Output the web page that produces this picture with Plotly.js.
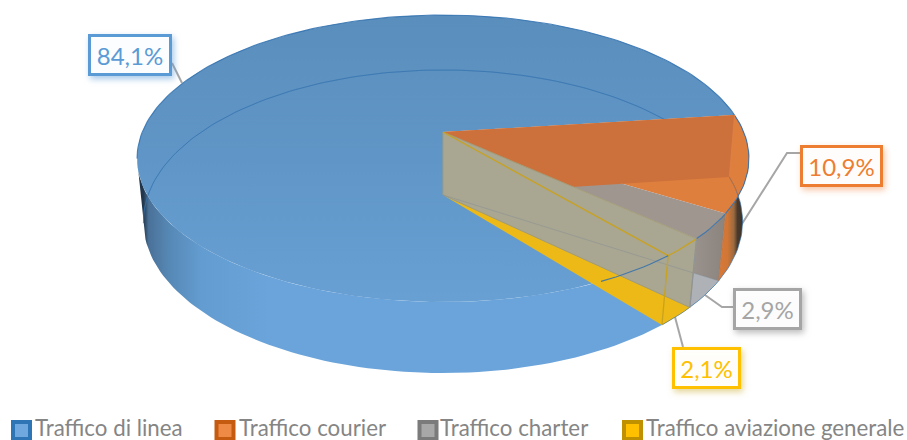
<!DOCTYPE html>
<html>
<head>
<meta charset="utf-8">
<script src="https://cdn.plot.ly/plotly-3.0.1.min.js"></script>
<style>
  html, body { margin: 0; padding: 0; background: #fff; }
  #chart { width: 907px; height: 440px; }
  .annotation[data-index="0"] rect.bg { filter: drop-shadow(2px 3px 3px rgba(91,155,213,.55)); }
  .annotation[data-index="1"] rect.bg { filter: drop-shadow(2px 3px 3px rgba(237,125,49,.45)); }
  .annotation[data-index="2"] rect.bg { filter: drop-shadow(2px 3px 3px rgba(120,120,120,.5)); }
  .annotation[data-index="3"] rect.bg { filter: drop-shadow(2px 3px 3px rgba(200,170,40,.5)); }
</style>
</head>
<body>
<div id="chart"></div>
<script>
// Chart values
const categories = ['Traffico di linea', 'Traffico courier', 'Traffico charter', 'Traffico aviazione generale'];
const shares = [84.1, 10.9, 2.9, 2.1];
const shareLabels = ['84,1%', '10,9%', '2,9%', '2,1%'];

// Slice order starts at this clockwise angle from twelve o'clock
const firstSliceAngle = 140;

// Perspective model of the disc: one ellipse for the upper face, one for the lower
const upperFace = { cx: 443, cy: 132, r: 300.7, b: 138.6, k: -0.1847 };
const lowerFace = { cx: 443, cy: 195, r: 295, b: 146.9, k: -0.1749 };
const leftTangent = 259.3;

function project(face, deg) {
  const a = deg * Math.PI / 180;
  const X = Math.sin(a), Y = -Math.cos(a);
  const w = 1 / (1 + face.k * Y);
  return [face.cx + face.r * X * w, face.cy + face.b * Y * w];
}
function arc(face, from, to) {
  const n = Math.max(2, Math.ceil(Math.abs(to - from) / 1.5));
  const pts = [];
  for (let i = 0; i <= n; i++) pts.push(project(face, from + (to - from) * i / n));
  return pts;
}
const centre = f => [f.cx, f.cy];

// Slice boundaries derived from the shares
const bounds = [firstSliceAngle];
shares.forEach(s => bounds.push(bounds[bounds.length - 1] + s * 3.6));
const [blueStart, blueEnd, orangeEnd, grayEnd, yellowEnd] = bounds;
const orangeStart = blueEnd, grayStart = orangeEnd, yellowStart = grayEnd;

function poly(points, name, fill, lineColor, lineWidth, gradient) {
  const pts = points.concat([points[0]]);
  const t = {
    type: 'scatter', mode: 'lines', name, showlegend: false, hoverinfo: 'skip',
    x: pts.map(p => p[0]), y: pts.map(p => p[1]), fill: 'toself',
    line: { color: lineColor || 'rgba(0,0,0,0)', width: lineWidth || 0, shape: 'linear' }
  };
  if (gradient) t.fillgradient = gradient; else t.fillcolor = fill;
  return t;
}
function path(points, name, color, width) {
  return {
    type: 'scatter', mode: 'lines', name, showlegend: false, hoverinfo: 'skip',
    x: points.map(p => p[0]), y: points.map(p => p[1]),
    line: { color, width }
  };
}
function wall(from, to) {
  return arc(upperFace, from, to).concat(arc(lowerFace, to, from));
}
function wedge(face, from, to) {
  return [centre(face)].concat(arc(face, from, to));
}
function cutFace(angle) {
  return [centre(upperFace), project(upperFace, angle), project(lowerFace, angle), centre(lowerFace)];
}

// Leader lines from each label box to its slice
const leaderX = [[172, 182], [740, 787, 800], [705, 722, 733], [675, 683]];
const leaderY = [[63, 83], [227, 153, 153], [295, 307, 307], [317, 347]];
const leaders = leaderX.map((xs, i) => ({
  type: 'scatter', mode: 'lines', showlegend: false, hoverinfo: 'skip',
  x: xs, y: leaderY[i], line: { color: '#a6a6a6', width: 2 }
}));

const traces = [
  ...leaders,

  // Blue outer wall, darkening towards the left edge
  poly(wall(blueStart, leftTangent), categories[0] + ' wall', null, null, 0, {
    type: 'horizontal',
    colorscale: [[0, '#1d2f45'], [0.012, '#22384f'], [0.022, '#4a7198'], [0.06, '#5688b5'], [0.12, '#639cd0'], [0.25, '#6aa4da'], [1, '#6aa4da']]
  }),
  // Orange outer wall, darkening towards the right edge
  poly(wall(orangeStart, orangeEnd), categories[1] + ' wall', null, null, 0, {
    type: 'horizontal',
    colorscale: [[0, '#d97a38'], [0.3, '#d07636'], [0.5, '#9a6a40'], [0.62, '#4a3a2c'], [1, '#2d2a26']]
  }),
  // Gray and yellow outer walls
  poly(wall(grayStart, grayEnd), categories[2] + ' wall', null, null, 0, {
    type: 'horizontal', colorscale: [[0, '#9c948e'], [1, '#8a837e']]
  }),
  poly(wall(yellowStart, yellowEnd), categories[3] + ' wall', '#ecb916'),

  // Upper faces
  poly(wedge(upperFace, blueStart, blueEnd), categories[0], null, null, 0, {
    type: 'vertical',
    colorscale: [[0, '#68a0d4'], [0.5, '#6096c7'], [1, '#5a8ebc']]
  }),
  poly(wedge(upperFace, orangeStart, orangeEnd), categories[1], '#df7f3e'),
  poly(wedge(upperFace, grayStart, grayEnd), categories[2], '#a09690'),

  // Lower faces seen through the glassy disc
  poly(wedge(lowerFace, grayStart, grayEnd), categories[2] + ' base', '#aeb2b6'),
  poly(wedge(lowerFace, yellowStart, yellowEnd), categories[3] + ' base', '#ecb916'),

  // Rims: back of the lower face and front of the upper face
  path(arc(lowerFace, leftTangent, orangeStart), 'back rim', 'rgba(70,125,175,.4)', 1),
  path(arc(upperFace, yellowEnd, leftTangent), 'front rim', 'rgba(47,112,175,.85)', 1.1),
  path(arc(lowerFace, yellowEnd, leftTangent), 'outer rim', 'rgba(47,112,175,.6)', 1),

  // Cut faces along the slice boundaries
  poly(cutFace(orangeStart), categories[1] + ' cut', '#cc713c'),
  path(arc(lowerFace, orangeStart, orangeStart + 6), 'orange crease', 'rgba(200,110,50,.8)', 1),
  poly(cutFace(grayEnd), categories[2] + ' cut', '#a9a692', '#a39c78', 1),

  // Outlines that show through the cut face
  path([centre(lowerFace), project(lowerFace, orangeEnd)], 'gray base edge', 'rgba(120,135,150,.35)', 1),
  path([centre(upperFace), project(upperFace, yellowEnd)], 'yellow edge', '#c9a21f', 1.3),
  path(arc(upperFace, yellowStart, yellowEnd), 'yellow rim', '#c9a21f', 1.3),
  path([project(upperFace, yellowEnd), project(lowerFace, yellowEnd)], 'yellow riser', '#c9a21f', 1.3),
  path(arc(upperFace, yellowEnd, yellowEnd + 14), 'front rim over', 'rgba(47,112,175,.85)', 1.1),
  path([project(upperFace, grayEnd), project(lowerFace, grayEnd)], 'gray riser', '#8f9498', 1.2),
  path([project(upperFace, orangeEnd), project(lowerFace, orangeEnd)], 'orange riser', 'rgba(200,110,50,.8)', 1),
  path([project(upperFace, orangeStart), project(lowerFace, orangeStart)], 'orange riser back', 'rgba(225,130,70,.7)', 1),

  // Legend swatches
  ...categories.map((c, i) => ({
    type: 'scatter', mode: 'markers', name: c, showlegend: false, hoverinfo: 'skip',
    x: [[21.5, 225, 428, 632.5][i]], y: [430.5],
    marker: {
      symbol: 'square', size: 17,
      color: ['#6ea8de', '#ef8a46', '#a8a8a8', '#ffc000'][i],
      line: { width: 4, color: ['#2e75b6', '#c55a11', '#7b7b7b', '#bf9000'][i] }
    }
  }))
];

// Data label boxes
const labelColors = ['#5b9bd5', '#ed7d31', '#a5a5a5', '#ffc000'];
const labelCentreX = [130, 841.5, 767.5, 706.5];
const labelCentreY = [54.5, 165.5, 308.5, 368];
const labelWidths = [78, 77, 63, 63];
const annotations = shareLabels.map((t, i) => ({
  text: t, xref: 'x', yref: 'y', x: labelCentreX[i], y: labelCentreY[i],
  xanchor: 'center', yanchor: 'middle', showarrow: false,
  width: labelWidths[i], height: 36, borderpad: 0, borderwidth: 3,
  bordercolor: labelColors[i], bgcolor: 'rgba(255,255,255,.96)',
  font: { family: 'Lato, sans-serif', size: 24, color: labelColors[i] }
}));

// Legend texts
const legendTextX = [33, 237, 438, 644];
categories.forEach((c, i) => annotations.push({
  text: c, xref: 'x', yref: 'y', x: legendTextX[i], y: 427.5,
  xanchor: 'left', yanchor: 'middle', showarrow: false,
  font: { family: 'Lato, sans-serif', size: 22.3, color: '#858585' }
}));

const layout = {
  width: 907, height: 440,
  margin: { l: 0, r: 0, t: 0, b: 0, pad: 0 },
  paper_bgcolor: '#fff', plot_bgcolor: '#fff',
  showlegend: false,
  xaxis: { range: [0, 907], visible: false, fixedrange: true },
  yaxis: { range: [440, 0], visible: false, fixedrange: true },
  annotations
};

Plotly.newPlot('chart', traces, layout, { displayModeBar: false, staticPlot: true });
</script>
</body>
</html>
